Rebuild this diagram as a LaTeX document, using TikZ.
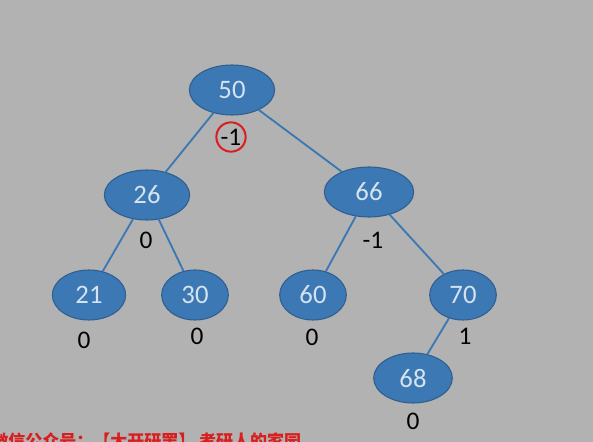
\documentclass[tikz,border=0pt]{standalone}
\usepackage{fontspec}
\setmainfont{Carlito}
\newfontfamily\cjk{Noto Sans CJK SC}
\usetikzlibrary{shapes.geometric}
\definecolor{bg}{HTML}{B2B2B2}
\definecolor{nodeblue}{HTML}{3C78B4}
\definecolor{nodeline}{HTML}{2F5F8F}
\definecolor{numtext}{HTML}{D5E2EF}
\definecolor{markred}{HTML}{D81E1E}
\begin{document}
\begin{tikzpicture}
    [x=0.75pt,y=-0.75pt,inner sep=0pt,
     key/.style={ellipse,draw=nodeline,fill=nodeblue,text=numtext,line width=0.8pt,
                 minimum height=37.5pt,font=\fontsize{20}{20}\selectfont},
     bf/.style={font=\fontsize{19}{19}\selectfont},
     edge/.style={draw=nodeblue,line width=1.4pt}]
    \useasboundingbox (0,0) rectangle (593,442);
    \fill [bg] (0,0) rectangle (593,442);
    \clip (0,0) rectangle (593,442);
    \node (n50) at (232, 90) [key,minimum width=64pt] {50};
    \node (n26) at (147, 195) [key,minimum width=64pt] {26};
    \node (n66) at (369, 192) [key,minimum width=67pt] {66};
    \node (n21) at (89, 295) [key,minimum width=55pt] {21};
    \node (n30) at (195, 295) [key,minimum width=50pt] {30};
    \node (n60) at (313, 295) [key,minimum width=50pt] {60};
    \node (n70) at (463, 295) [key,minimum width=50pt] {70};
    \node (n68) at (413, 378) [key,minimum width=59pt] {68};
    \node (bf50) at (231, 137) [bf,circle,draw=markred,line width=1.5pt,minimum size=22pt] {-1};
    \node (bf26) at (146, 240) [bf] {0};
    \node (bf66) at (373, 240) [bf] {-1};
    \node (bf21) at (84, 340) [bf] {0};
    \node (bf30) at (197, 336) [bf] {0};
    \node (bf60) at (312, 337) [bf] {0};
    \node (bf70) at (465, 336) [bf] {1};
    \node (bf68) at (413, 421) [bf] {0};
    \node (wx) at (-9, 441) [anchor=west,text=markred,font=\cjk\bfseries\fontsize{12.75}{12.75}\selectfont]
        {微信公众号：【大开研罢】 考研人的家园};
    \draw [edge] (n50) to (n26);
    \draw [edge] (n50) to (n66);
    \draw [edge] (n26) to (n21);
    \draw [edge] (n26) to (n30);
    \draw [edge] (n66) to (n60);
    \draw [edge] (n66) to (n70);
    \draw [edge] (n70) to (n68);
\end{tikzpicture}
\end{document}
